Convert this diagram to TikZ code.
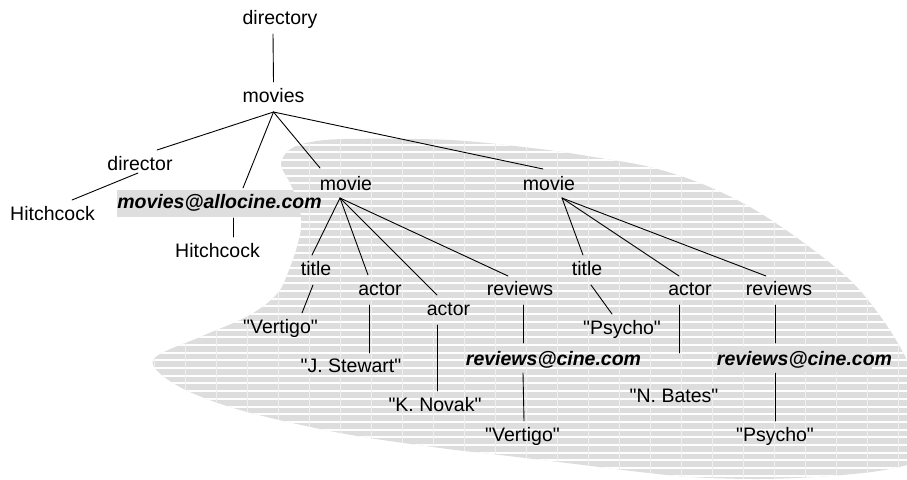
\documentclass[tikz,border=0pt]{standalone}
\usepackage{fontspec}
% no TeX ligature mapping, so that " stays a straight quote
\setmainfont{Liberation Sans}[Ligatures=TeXOff]
\definecolor{blobgray}{HTML}{DDDDDD}
\definecolor{gridline}{HTML}{EFEFEF}
\definecolor{boxgray}{HTML}{DEDEDE}
\tikzset{
  lbl/.style={anchor=base, inner sep=0pt, font=\fontsize{19.5}{23}\selectfont},
  email/.style={lbl, font=\fontsize{19.5}{23}\selectfont\bfseries\itshape},
  edge/.style={line width=0.9pt, line cap=round},
  hilite/.style={fill=boxgray, draw=none},
}
\begin{document}
\begin{tikzpicture}[x=1pt, y=-1pt]
\useasboundingbox (0,0) rectangle (907,479);

% shaded box behind the first e-mail label
\fill[hilite] (117,190) rectangle (325,217);

% striped region
\begin{scope}
  \clip plot[smooth cycle, tension=0.55] coordinates {
    (153,360) (200,337) (240,320) (265,305) (280,290) (289,270) (296,250)
    (301,228) (299,205) (290,183) (281,165) (288,151) (306,143) (345,139)
    (450,140) (540,149) (600,158) (650,167) (700,183) (750,207) (800,240)
    (850,280) (883,320) (907,360) (932,415) (922,456) (890,469) (830,476)
    (760,479) (690,477) (640,472) (575,464) (500,455) (440,448) (340,433)
    (240,410) (178,386)};
  \fill[blobgray] (100,120) rectangle (960,490);
  \foreach \i in {0,...,46}
    \draw[white, line width=2pt] (100,{137+\i*7.7}) -- (960,{137+\i*7.7});
  \foreach \i in {0,...,27}
    \draw[gridline, line width=0.8pt] ({123+\i*31},120) -- ({123+\i*31},490);
\end{scope}

% shaded box behind the second review address
\fill[hilite] (717,347) rectangle (872,372);

% labels
\node[lbl] (directory) at (280,24) {directory};
\node[lbl] (movies) at (273.5,102) {movies};
\node[lbl] (director) at (140,170) {director};
\node[lbl] (hitchA) at (52.5,220) {Hitchcock};
\node[email] (allocine) at (219.5,208) {movies@allocine.com};
\node[lbl] (hitchB) at (217.5,257) {Hitchcock};
\node[lbl] (movieA) at (346,190) {movie};
\node[lbl] (movieB) at (549,190) {movie};
\node[lbl] (titleA) at (316,275) {title};
\node[lbl] (vertigoA) at (280.5,333) {"Vertigo"};
\node[lbl] (actorA) at (380,295) {actor};
\node[lbl] (stewart) at (351,372) {"J. Stewart"};
\node[lbl] (actorB) at (448.5,315) {actor};
\node[lbl] (novak) at (435,411) {"K. Novak"};
\node[lbl] (reviewsA) at (520,295) {reviews};
\node[email] (cineA) at (553.5,365) {reviews@cine.com};
\node[lbl] (vertigoB) at (522.5,441) {"Vertigo"};
\node[lbl] (titleB) at (587,275) {title};
\node[lbl] (psychoA) at (622,334) {"Psycho"};
\node[lbl] (actorC) at (690,295) {actor};
\node[lbl] (bates) at (674,402) {"N. Bates"};
\node[lbl] (reviewsB) at (779,295) {reviews};
\node[email] (cineB) at (804.5,365) {reviews@cine.com};
\node[lbl] (psychoB) at (775,441) {"Psycho"};

% tree edges
\draw[edge] ([shift={(-7,10)}]directory.base) -- ([shift={(0,-20)}]movies.base);
\draw[edge] ([shift={(0,10)}]movies.base) -- ([shift={(17,-20)}]director.base);
\draw[edge] ([shift={(0,10)}]movies.base) -- ([shift={(23.5,-20)}]allocine.base);
\draw[edge] ([shift={(0,10)}]movies.base) -- ([shift={(-26,-22)}]movieA.base);
\draw[edge] ([shift={(0,10)}]movies.base) -- ([shift={(-6,-21)}]movieB.base);
\draw[edge] ([shift={(-2,3)}]director.base) -- ([shift={(19.5,-20)}]hitchA.base);
\draw[edge] ([shift={(13.5,10)}]allocine.base) -- ([shift={(15.5,-20)}]hitchB.base);

\draw[edge] ([shift={(-6,8)}]movieA.base) -- ([shift={(-4,-20)}]titleA.base);
\draw[edge] ([shift={(-6,8)}]movieA.base) -- ([shift={(-12,-20)}]actorA.base);
\draw[edge] ([shift={(-6,8)}]movieA.base) -- ([shift={(-11.5,-20)}]actorB.base);
\draw[edge] ([shift={(-6,8)}]movieA.base) -- ([shift={(-12,-19)}]reviewsA.base);
\draw[edge] ([shift={(-3,10)}]titleA.base) -- ([shift={(21.5,-20)}]vertigoA.base);
\draw[edge] ([shift={(-11,10)}]actorA.base) -- ([shift={(18,-19)}]stewart.base);
\draw[edge] ([shift={(-11.5,10)}]actorB.base) -- ([shift={(2,-20)}]novak.base);
\draw[edge] ([shift={(3,10)}]reviewsA.base) -- ([shift={(-30.5,-22)}]cineA.base);
\draw[edge] ([shift={(-30.5,8)}]cineA.base) -- ([shift={(1.5,-20)}]vertigoB.base);

\draw[edge] ([shift={(13,8)}]movieB.base) -- ([shift={(-4,-20)}]titleB.base);
\draw[edge] ([shift={(13,8)}]movieB.base) -- ([shift={(-11,-19)}]actorC.base);
\draw[edge] ([shift={(13,8)}]movieB.base) -- ([shift={(-13,-19)}]reviewsB.base);
\draw[edge] ([shift={(4,10)}]titleB.base) -- ([shift={(-10,-20)}]psychoA.base);
\draw[edge] ([shift={(-11,10)}]actorC.base) -- ([shift={(5,-49)}]bates.base);
\draw[edge] ([shift={(-3.5,10)}]reviewsB.base) -- ([shift={(-29,-22)}]cineB.base);
\draw[edge] ([shift={(-29,8)}]cineB.base) -- ([shift={(0.5,-20)}]psychoB.base);
\end{tikzpicture}
\end{document}
